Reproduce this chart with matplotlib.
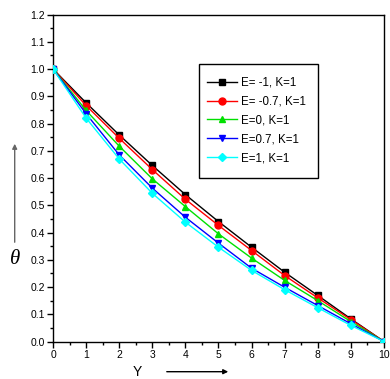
import matplotlib
matplotlib.use("Agg")
import matplotlib.pyplot as plt
from matplotlib.ticker import MultipleLocator
from matplotlib.patches import Rectangle, FancyArrowPatch

plt.rcParams['font.family'] = ['Liberation Sans', 'DejaVu Sans']

y_vals = [0, 1, 2, 3, 4, 5, 6, 7, 8, 9, 10]
theta_e_m1 = [1.0, 0.876, 0.758, 0.646, 0.539, 0.440, 0.346, 0.254, 0.169, 0.083, 0.0]
theta_e_m07 = [1.0, 0.866, 0.746, 0.631, 0.522, 0.426, 0.334, 0.242, 0.160, 0.080, 0.0]
theta_e_0 = [1.0, 0.848, 0.717, 0.597, 0.495, 0.395, 0.306, 0.224, 0.150, 0.073, 0.0]
theta_e_07 = [1.0, 0.836, 0.685, 0.563, 0.456, 0.361, 0.269, 0.199, 0.132, 0.065, 0.0]
theta_e_1 = [1.0, 0.820, 0.670, 0.544, 0.438, 0.346, 0.261, 0.190, 0.124, 0.059, 0.0]

x_ticks = [0, 1, 2, 3, 4, 5, 6, 7, 8, 9, 10]
y_ticks = [0.0, 0.1, 0.2, 0.3, 0.4, 0.5, 0.6, 0.7, 0.8, 0.9, 1.0, 1.1, 1.2]
y_tick_labels = ["0.0", "0.1", "0.2", "0.3", "0.4", "0.5", "0.6",
                 "0.7", "0.8", "0.9", "1.0", "1.1", "1.2"]

labels = ["E= -1, K=1", "E= -0.7, K=1", "E=0, K=1", "E=0.7, K=1", "E=1, K=1"]
series = [theta_e_m1, theta_e_m07, theta_e_0, theta_e_07, theta_e_1]
colors = ["#000000", "#ff0000", "#00e000", "#0000ff", "#00ffff"]
markers = ["s", "o", "^", "v", "D"]
msizes = [4.5, 5, 5, 5, 4.5]

fig = plt.figure(figsize=(3.9, 3.79), dpi=100)
ax = fig.add_axes([0.1359, 0.0989, 0.8487, 0.8628])

for vals, lab, c, m, ms in zip(series, labels, colors, markers, msizes):
    ax.plot(y_vals, vals, color=c, marker=m, markersize=ms, lw=1.0, label=lab, zorder=3)

ax.set_xlim(0, 10)
ax.set_ylim(0, 1.2)
ax.set_xticks(x_ticks)
ax.set_yticks(y_ticks, y_tick_labels)
ax.xaxis.set_minor_locator(MultipleLocator(0.5))
ax.yaxis.set_minor_locator(MultipleLocator(0.05))
ax.tick_params(which='major', direction='out', length=4, width=1, labelsize=7.5, pad=2)
ax.tick_params(which='minor', direction='out', length=2, width=1)
ax.tick_params(top=False, right=False)
for s in ax.spines.values():
    s.set_linewidth(1.0)

# legend box drawn separately so the padding can differ per side
ax.add_patch(Rectangle((0.441, 0.50), 0.3595, 0.3486, transform=ax.transAxes,
                       facecolor='white', edgecolor='black', lw=1.0, zorder=4))
leg = ax.legend(loc='upper left', bbox_to_anchor=(0.465, 0.810), frameon=False,
                fontsize=8.3, handlelength=2.6, handletextpad=0.4, borderpad=0,
                labelspacing=0.6, borderaxespad=0)
leg.set_zorder(5)

# axis labels with arrows
fig.text(137 / 390, 1 - 372 / 379, "Y", fontsize=10, ha='center', va='center')
fig.add_artist(FancyArrowPatch((164 / 390, 1 - 371.7 / 379), (231 / 390, 1 - 371.7 / 379),
                               transform=fig.transFigure, arrowstyle='-|>',
                               mutation_scale=7, color='black', lw=1))
fig.text(15 / 390, 1 - 259 / 379, "θ", fontsize=15, style='italic',
         family=['Liberation Serif', 'DejaVu Serif'], ha='center', va='center')
fig.add_artist(FancyArrowPatch((14.7 / 390, 1 - 245 / 379), (14.7 / 390, 1 - 141 / 379),
                               transform=fig.transFigure, arrowstyle='-|>',
                               mutation_scale=7, color='#666666', lw=1))

fig.savefig("out.png", dpi=100)
